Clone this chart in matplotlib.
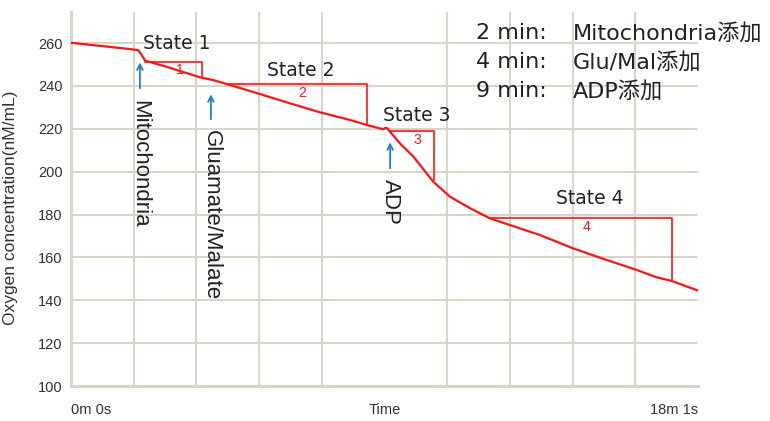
import numpy as np
import matplotlib.pyplot as plt

# Tiempo total del registro: 18m 1s
t_end = 18 + 1 / 60

# Curva de oxígeno (min, nM/mL)
t = [0.02, 0.83, 1.69, 1.93, 2.03, 2.13, 2.75, 3.71, 4.09, 4.66, 5.43, 6.29,
     7.15, 8.02, 8.49, 8.97, 9.03, 9.08, 9.17, 9.45, 9.84, 10.41, 10.89, 11.47,
     12.04, 12.61, 13.48, 14.43, 15.39, 16.26, 16.83, 17.26, 18.02]
oxygen = [260.1, 258.7, 257.2, 256.7, 254.4, 251.8, 248.9, 244.0, 242.7, 240.0,
          236.2, 231.9, 227.7, 224.1, 221.8, 219.8, 220.4, 220.3, 218.6, 213.2,
          207.0, 195.3, 188.3, 182.9, 178.2, 175.1, 170.4, 164.2, 158.8, 154.1,
          150.7, 149.0, 144.5]

# Triángulos de pendiente: (t inicio, t fin, O2 arriba, O2 abajo)
slope_t0 = [2.13, 4.48, 9.17, 12.04]
slope_t1 = [3.76, 8.51, 10.43, 17.27]
slope_top = [251.4, 240.9, 219.1, 178.6]
slope_bot = [244.4, 221.9, 196.0, 149.3]
slope_names = ['1', '2', '3', '4']
slope_lab_t = [3.13, 6.64, 9.94, 14.8]
slope_lab_v = [247.6, 236.5, 215.0, 174.0]

# Etiquetas de estado
state_names = ['State 1', 'State 2', 'State 3', 'State 4']
state_t = [2.07, 5.63, 8.97, 13.94]
state_v = [259.6, 247.4, 226.0, 187.3]

# Adiciones (flechas azules)
add_names = ['Mitochondria', 'Gluamate/Malate', 'ADP']
add_t = [1.98, 4.02, 9.17]
arrow_low = [237.6, 223.2, 200.3]
arrow_high = [252.3, 237.4, 215.0]
label_top = [233.4, 219.5, 196.6]

# Leyenda de texto
note_time = ['2 min:', '4 min:', '9 min:']
note_what = ['Mitochondria添加', 'Glu/Mal添加', 'ADP添加']
note_v = [264.7, 251.1, 237.6]

grid_c = '#d9d5c8'
red = '#ff1414'
blue = '#1f7fd0'

fig = plt.figure(figsize=(7.7, 4.21), dpi=100)
ax = fig.add_axes([71 / 770, 1 - 386 / 421, 627 / 770, 374 / 421])

ax.plot(t, oxygen, color=red, lw=1.6, zorder=3)

for i in range(4):
    ax.plot([slope_t0[i], slope_t1[i], slope_t1[i]],
            [slope_top[i], slope_top[i], slope_bot[i]], color=red, lw=1.2, zorder=3)
    ax.text(slope_lab_t[i], slope_lab_v[i], slope_names[i], color=red,
            fontsize=10, ha='center', va='center', family='Liberation Sans')

for i in range(4):
    ax.text(state_t[i], state_v[i], state_names[i], fontsize=13.5,
            ha='left', va='center', color='#222222')

for i in range(3):
    ax.annotate('', xy=(add_t[i], arrow_high[i]), xytext=(add_t[i], arrow_low[i]),
                arrowprops=dict(arrowstyle='->', color=blue, lw=1.3))
    ax.text(add_t[i], label_top[i], add_names[i], rotation=-90, fontsize=16,
            ha='center', va='top', family='Liberation Sans', color='#222222')

for i in range(3):
    ax.text(11.64, note_v[i], note_time[i], fontsize=16, ha='left', va='center',
            color='#222222', family=['DejaVu Sans', 'Noto Sans CJK JP'])
    ax.text(14.43, note_v[i], note_what[i], fontsize=16, ha='left', va='center',
            color='#222222', family=['DejaVu Sans', 'Noto Sans CJK JP'])

ax.set_xlim(0, t_end)
ax.set_ylim(100, 274.5)

ax.set_yticks(np.arange(100, 261, 20))
ax.set_xticks([0, t_end / 2, t_end])
ax.set_xticklabels(['0m 0s', 'Time', '18m 1s'])
xl = ax.get_xticklabels()
xl[0].set_ha('left')
xl[2].set_ha('right')
ax.set_xticks(np.linspace(0, t_end, 11), minor=True)

ax.tick_params(axis='both', which='both', length=0, colors='#333333')
ax.tick_params(axis='y', labelsize=10.5, pad=6)
ax.tick_params(axis='x', labelsize=10.5, pad=12)
for lab in ax.get_xticklabels() + ax.get_yticklabels():
    lab.set_family('Liberation Sans')

ax.grid(axis='y', which='major', color=grid_c, lw=1.5)
ax.grid(axis='x', which='minor', color=grid_c, lw=1.5)
ax.grid(axis='x', which='major', visible=False)

for s in ['top', 'right']:
    ax.spines[s].set_visible(False)
for s in ['left', 'bottom']:
    ax.spines[s].set_color(grid_c)
    ax.spines[s].set_linewidth(2.2)

ax.set_ylabel('Oxygen concentration(nM/mL)', fontsize=12.5,
              family='Liberation Sans', color='#333333')
ax.yaxis.set_label_coords(-0.085, 0.476)

fig.savefig('out.png', dpi=100)
